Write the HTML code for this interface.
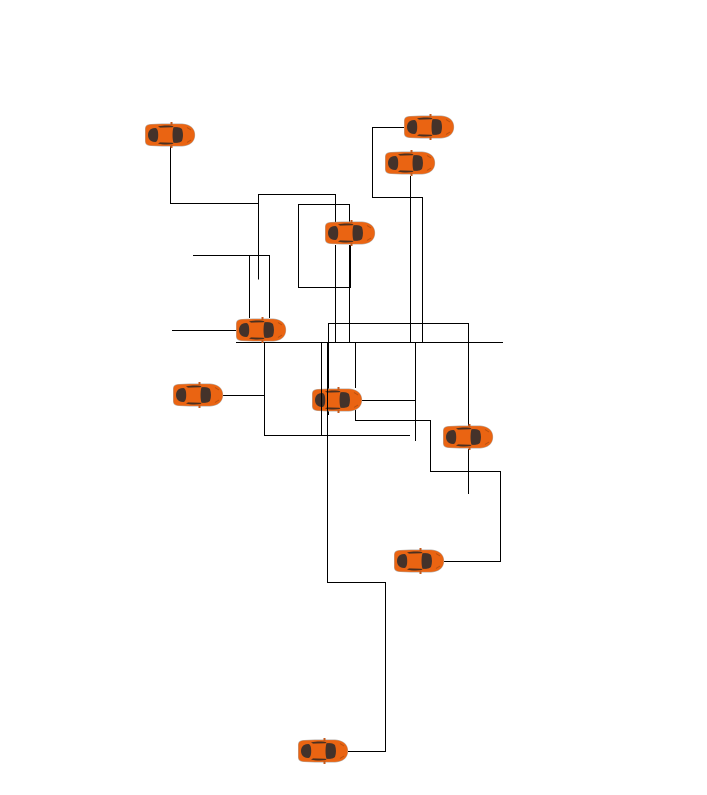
<!DOCTYPE html>
<html>
<head>
<meta charset="utf-8">
<style>
html,body{margin:0;padding:0;background:#fff;width:707px;height:795px;overflow:hidden}
svg{display:block}
</style>
</head>
<body>
<svg width="707" height="795" viewBox="0 0 707 795" xmlns="http://www.w3.org/2000/svg">
<defs>
<g id="car">
  <path d="M-25,-6 C-25,-9.500 -23,-10.800 -19,-11 L-8,-11.500 L12,-11.500 C18,-11 22,-9 24,-5 C25.500,-2 25.500,2 24,5 C22,9 18,11 12,11.500 L-8,11.500 L-19,11 C-23,10.800 -25,9.500 -25,6 Z" fill="#b5aea8"/>
  <path d="M-24.500,-6 C-24.500,-9 -22.500,-10.300 -19,-10.500 L-8,-10.900 L12,-10.900 C18,-10.500 21.500,-8.500 23.500,-5 C25,-2 25,2 23.500,5 C21.500,8.500 18,10.500 12,10.900 L-8,10.900 L-19,10.500 C-22.500,10.300 -24.500,9 -24.500,6 Z" fill="#ea6412"/>
  <path d="M-14.500,-7 C-19.500,-7 -22,-4 -22,0 C-22,4 -19.500,7 -14.500,7 C-12.500,6.500 -11.800,3.500 -11.800,0 C-11.800,-3.500 -12.500,-6.500 -14.500,-7 Z" fill="#44322a"/>
  <path d="M3.500,-7.800 C7.500,-8.200 11,-7.500 12,-5.800 C13.300,-2 13.300,2 12,5.800 C11,7.500 7.500,8.200 3.500,7.800 C2.200,4 2.200,-4 3.500,-7.800 Z" fill="#44322a"/>
  <path d="M-12,-8.600 C-6,-9.800 -1,-9.800 3.500,-8.800 L2.500,-7.800 L-10,-7.400 Z" fill="#4b3020"/>
  <path d="M-12,8.600 C-6,9.800 -1,9.800 3.500,8.800 L2.500,7.800 L-10,7.400 Z" fill="#4b3020"/>
  <rect x="0.500" y="-13" width="2" height="3" fill="#c4591b"/>
  <rect x="0.500" y="10" width="2" height="3" fill="#c4591b"/>
  <path d="M17,-7.500 L21,-5 M17,7.500 L21,5" stroke="#b8500f" stroke-width="1" fill="none"/>
</g>
</defs>

<g fill="none" stroke="#000" stroke-width="1">
  <path d="M170.500,146V203.500H258.500"/>
  <path d="M258.500,279.500V194.500H335.500V222"/>
  <path d="M349.500,222V204.500H298.500V287.500H350.500"/>
  <path d="M350,245V288" stroke-width="2"/>
  <path d="M335.500,245V342"/>
  <path d="M349.500,288V342"/>
  <path d="M193,255.500H269.500V318"/>
  <path d="M249.500,255.500V318"/>
  <path d="M172,330.500H236"/>
  <path d="M236,342.500H503"/>
  <path d="M264.500,343V435.500H410"/>
  <path d="M223,395.500H264.500"/>
  <path d="M328.500,415V323.500H468.500V426"/>
  <path d="M355.500,342V388"/>
  <path d="M355.500,410V420.500H430.500V471.500H500.500V561.500H444"/>
  <path d="M362,400.500H415.500"/>
  <path d="M415.500,342V441"/>
  <path d="M468.500,449V494"/>
  <path d="M410.500,176V342"/>
  <path d="M404,127.500H372.500V197.500H422.500V342"/>
</g>

<use href="#car" x="170" y="135"/>
<use href="#car" x="429" y="127"/>
<use href="#car" x="410" y="163"/>
<use href="#car" x="350" y="233"/>
<use href="#car" x="261" y="330"/>
<use href="#car" x="198" y="395"/>
<use href="#car" x="337" y="400"/>
<use href="#car" x="468" y="437"/>
<use href="#car" x="419" y="561"/>
<use href="#car" x="323" y="751"/>

<g fill="none" stroke="#000" stroke-width="1">
  <path d="M321.500,342V435.500"/>
  <path d="M327.500,342V582.500H385.500V751.500H348"/>
</g>
</svg>
</body>
</html>
